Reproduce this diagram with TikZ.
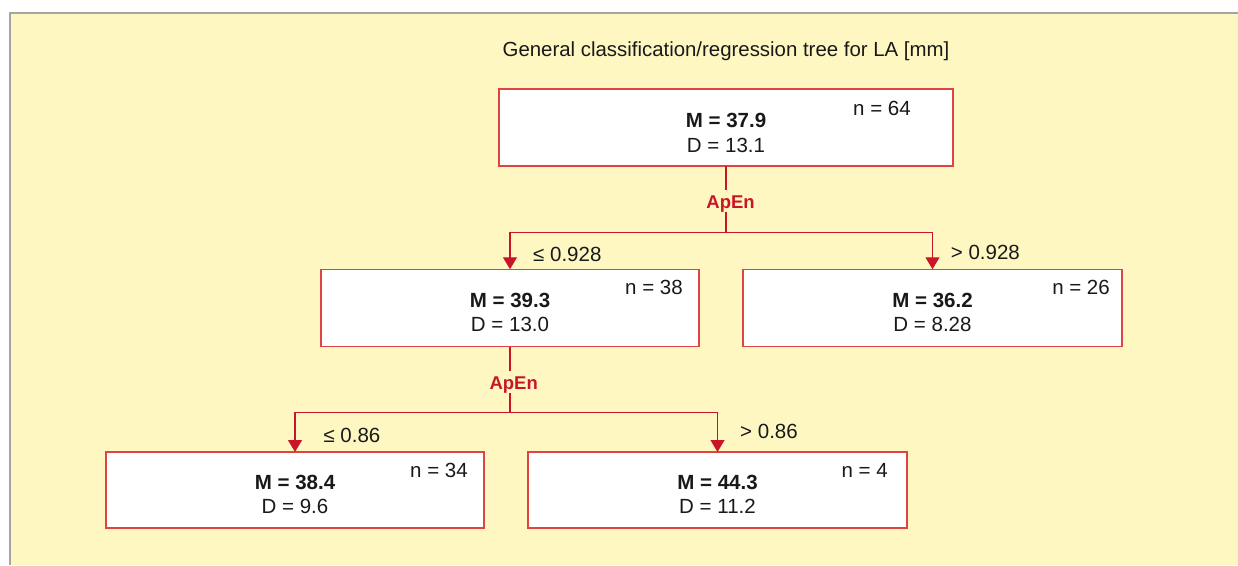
\documentclass[tikz,border=0pt]{standalone}
\usepackage{fontspec}
\setmainfont{Liberation Sans}
\usetikzlibrary{arrows.meta}
\definecolor{bgyellow}{RGB}{255,247,194}
\definecolor{framegrey}{RGB}{165,165,165}
\definecolor{boxred}{RGB}{222,68,68}
\definecolor{linered}{RGB}{200,22,40}
\definecolor{txt}{RGB}{25,25,25}
\begin{document}
\begin{tikzpicture}[x=1pt,y=-1pt,
  treebox/.style 2 args={draw=boxred,line width=1.3pt,fill=white,minimum width=#1pt,minimum height=#2pt,inner sep=0pt,outer sep=0pt},
  val/.style={font=\fontsize{20.5}{24}\selectfont,text=txt,inner sep=0pt,anchor=base},
  mval/.style={val,font=\fontsize{20.5}{24}\selectfont\bfseries},
  nval/.style={val,anchor=base east},
  elabel/.style={val,anchor=base west},
  split/.style={font=\fontsize{18.5}{22}\selectfont\bfseries,text=linered,inner sep=0pt,anchor=base,text height=18pt,text depth=3.5pt},
  conn/.style={draw=linered,line width=1.2pt},
  arr/.style={conn,-{Triangle[width=14pt,length=12pt]}},
  titletext/.style={font=\fontsize{20.4}{24}\selectfont,text=txt,inner sep=0pt,anchor=base}
]
\useasboundingbox (0,0) rectangle (1238,565);
\fill[white] (0,0) rectangle (1238,565);
\fill[bgyellow] (10.2,12.8) rectangle (1238,565);
\draw[framegrey,line width=1.6pt] (10.2,565) -- (10.2,12.8) -- (1238,12.8);

\node[titletext] (title) at (726,56.7) {General classification/regression tree for LA [mm]};

% boxes
\node[treebox={454}{77}] (root) at (726,127.5) {};
\node[treebox={378}{77.5}] (ml) at (510,308) {};
\node[treebox={379}{77.5}] (mr) at (932.5,308) {};
\node[treebox={378}{76}] (bl) at (295,490) {};
\node[treebox={379}{76}] (br) at (717.5,490) {};

% box texts
\node[mval] (rootM) at (726,127) {M = 37.9};
\node[val] (rootD) at (726,152) {D = 13.1};
\node[nval] (rootN) at (911,115) {n = 64};

\node[mval] (mlM) at (510,307.7) {M = 39.3};
\node[val] (mlD) at (510,331.7) {D = 13.0};
\node[nval] (mlN) at (683,294.3) {n = 38};

\node[mval] (mrM) at (932.5,307.7) {M = 36.2};
\node[val] (mrD) at (932.5,331.7) {D = 8.28};
\node[nval] (mrN) at (1110,294.3) {n = 26};

\node[mval] (blM) at (295,489.3) {M = 38.4};
\node[val] (blD) at (295,513.3) {D = 9.6};
\node[nval] (blN) at (468,477.3) {n = 34};

\node[mval] (brM) at (717.5,489.3) {M = 44.3};
\node[val] (brD) at (717.5,513.3) {D = 11.2};
\node[nval] (brN) at (888,477.3) {n = 4};

% split labels
\node[split] (apen1) at (730.6,208.3) {ApEn};
\node[split] (apen2) at (513.7,389.3) {ApEn};

\coordinate (s1) at (726,232.7);
\coordinate (s2) at (510,412.7);

% connectors
\draw[conn] (root.south) -- (root.south |- apen1.north);
\draw[conn] (s1 |- apen1.south) -- (s1);
\draw[arr] (s1) -| (ml.north);
\draw[arr] (s1) -| (mr.north);

\draw[conn] (ml.south) -- (ml.south |- apen2.north);
\draw[conn] (s2 |- apen2.south) -- (s2);
\draw[arr] (s2) -| (bl.north);
\draw[arr] (s2) -| (br.north);

% edge labels
\node[elabel] (e1) at (533,261.7) {≤ 0.928};
\node[elabel] (e2) at (950.7,259) {> 0.928};
\node[elabel] (e3) at (323.3,442.7) {≤ 0.86};
\node[elabel] (e4) at (740,438.3) {> 0.86};
\end{tikzpicture}
\end{document}
